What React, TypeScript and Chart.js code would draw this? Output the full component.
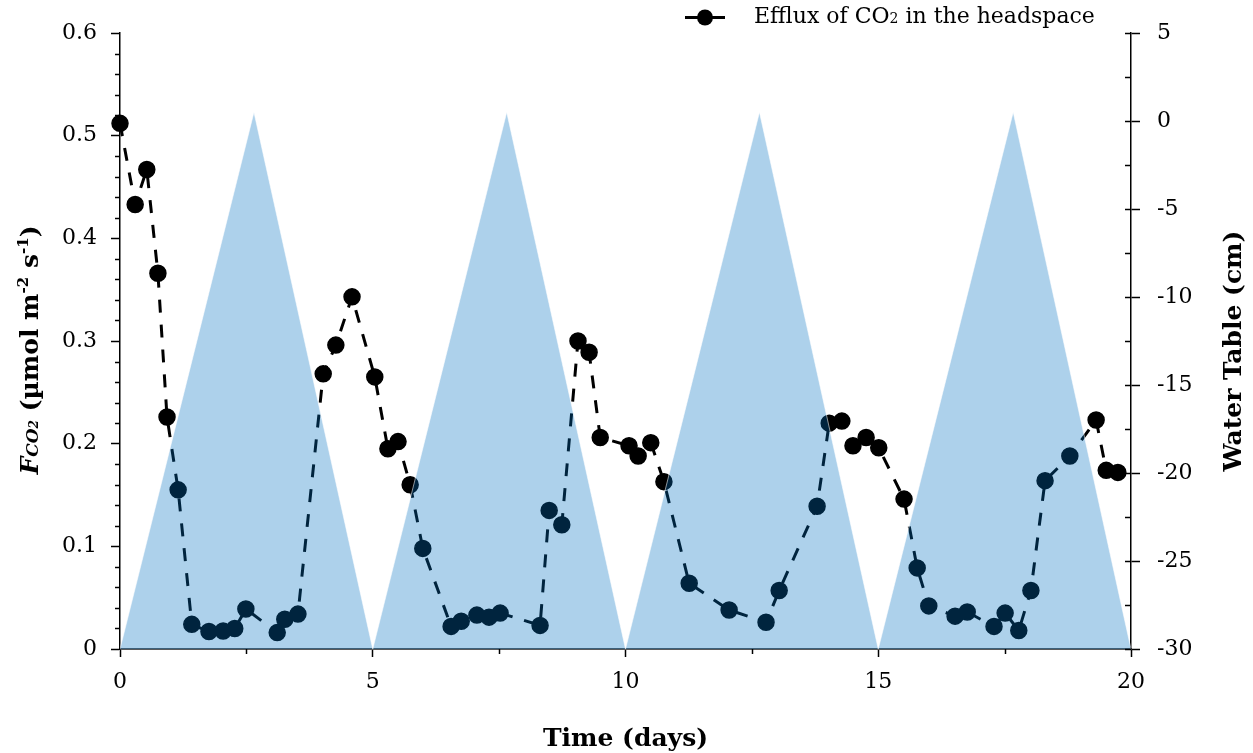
import { useEffect, useRef } from "react";
import { Chart, registerables } from "chart.js";

Chart.register(...registerables);

// ---- data ----
const days = [
  0.0, 0.3, 0.53, 0.75, 0.93, 1.15, 1.42, 1.76, 2.04, 2.27, 2.49, 3.11, 3.26, 3.52,
  4.02, 4.27, 4.59, 5.04, 5.3, 5.5, 5.74, 5.99, 6.55, 6.75, 7.06, 7.3, 7.52, 8.31,
  8.49, 8.74, 9.06, 9.28, 9.5, 10.07, 10.25, 10.5, 10.76, 11.26, 12.05, 12.78, 13.04,
  13.79, 14.03, 14.28, 14.5, 14.76, 15.01, 15.51, 15.77, 16.0, 16.52, 16.76, 17.29,
  17.51, 17.78, 18.02, 18.3, 18.79, 19.31, 19.51, 19.74,
];
const efflux = [
  0.512, 0.433, 0.467, 0.366, 0.226, 0.155, 0.024, 0.017, 0.0175, 0.02, 0.039, 0.016,
  0.029, 0.034, 0.268, 0.296, 0.343, 0.265, 0.195, 0.202, 0.16, 0.098, 0.022, 0.027,
  0.033, 0.031, 0.035, 0.023, 0.135, 0.121, 0.3, 0.289, 0.206, 0.198, 0.188, 0.201,
  0.163, 0.064, 0.038, 0.026, 0.057, 0.139, 0.22, 0.222, 0.198, 0.206, 0.196, 0.146,
  0.079, 0.042, 0.032, 0.036, 0.022, 0.035, 0.018, 0.057, 0.164, 0.188, 0.223, 0.174,
  0.172,
];
const waterDays = [0, 2.65, 5, 7.65, 10, 12.65, 15, 17.67, 20];
const waterLevels = [-30, 0.5, -30, 0.5, -30, 0.5, -30, 0.5, -30];

const legendText = ["Efflux of CO", "2", " in the headspace"];
const xTitle = "Time (days)";
const rightTitle = "Water Table (cm)";

const SERIF = "'DejaVu Serif', serif";

type Run = { text: string; size: number; bold?: boolean; italic?: boolean; dy?: number };

function fontOf(r: Run) {
  return `${r.italic ? "italic " : ""}${r.bold ? "bold " : ""}${r.size}px ${SERIF}`;
}

// draws runs centred on (bx, by) along the text direction, (bx,by) lying on the baseline
function drawRuns(ctx: CanvasRenderingContext2D, runs: Run[], bx: number, by: number, rot: number, align: "center" | "left" = "center") {
  ctx.save();
  ctx.translate(bx, by);
  ctx.rotate(rot);
  ctx.textBaseline = "alphabetic";
  ctx.textAlign = "left";
  ctx.fillStyle = "#000";
  const widths = runs.map((r) => {
    ctx.font = fontOf(r);
    return ctx.measureText(r.text).width;
  });
  const total = widths.reduce((a, b) => a + b, 0);
  let x = align === "center" ? -total / 2 : 0;
  runs.forEach((r, i) => {
    ctx.font = fontOf(r);
    ctx.fillText(r.text, x, r.dy || 0);
    x += widths[i];
  });
  ctx.restore();
}

const decorPlugin = {
  id: "decor",
  afterDraw(chart: any) {
    const ctx: CanvasRenderingContext2D = chart.ctx;
    const { left, right, bottom } = chart.chartArea;
    const x = chart.scales.x;
    const y = chart.scales.y;
    const y2 = chart.scales.y2;
    ctx.save();
    ctx.strokeStyle = "#000";
    ctx.lineWidth = 1.5;
    const seg = (x1: number, y1: number, x2: number, y2p: number) => {
      ctx.beginPath();
      ctx.moveTo(x1, y1);
      ctx.lineTo(x2, y2p);
      ctx.stroke();
    };
    // left minor ticks every 0.02
    for (let k = 1; k < 30; k++) {
      if (k % 5 === 0) continue;
      const py = Math.round(y.getPixelForValue(k * 0.02)) + 0.5;
      seg(left - 5, py, left, py);
    }
    // right: major ticks cross inside, minor ticks inside
    for (let k = -12; k <= 2; k++) {
      const py = Math.round(y2.getPixelForValue(k * 2.5)) + 0.5;
      seg(right - 6, py, right, py);
    }
    // x minor ticks
    for (const v of [2.5, 7.5, 12.5, 17.5]) {
      const px = Math.round(x.getPixelForValue(v)) + 0.5;
      seg(px, bottom, px, bottom + 5);
    }
    ctx.restore();

    // axis titles
    drawRuns(
      ctx,
      [
        { text: "F", size: 25, bold: true, italic: true },
        { text: "CO", size: 17, bold: true, italic: true },
        { text: "2", size: 12, bold: true, italic: true },
        { text: " (\u00b5mol m", size: 25, bold: true },
        { text: "-2", size: 15, bold: true, dy: -10 },
        { text: " s", size: 25, bold: true },
        { text: "-1", size: 15, bold: true, dy: -10 },
        { text: ")", size: 25, bold: true },
      ],
      38,
      350,
      -Math.PI / 2
    );
    drawRuns(ctx, [{ text: rightTitle, size: 25, bold: true }], 1241, 351, -Math.PI / 2);
    drawRuns(ctx, [{ text: xTitle, size: 25, bold: true }], (left + right) / 2, 746, 0);

    // legend
    ctx.save();
    ctx.strokeStyle = "#000";
    ctx.lineWidth = 3;
    ctx.beginPath();
    ctx.moveTo(685, 17.5);
    ctx.lineTo(725, 17.5);
    ctx.stroke();
    ctx.fillStyle = "#000";
    ctx.beginPath();
    ctx.arc(705, 17.5, 8, 0, Math.PI * 2);
    ctx.fill();
    ctx.restore();
    drawRuns(
      ctx,
      [
        { text: legendText[0], size: 22 },
        { text: legendText[1], size: 14 },
        { text: legendText[2], size: 22 },
      ],
      754,
      23,
      0,
      "left"
    );
  },
};

export default function App() {
  const ref = useRef<HTMLCanvasElement | null>(null);
  useEffect(() => {
    document.body.style.margin = "0";
    document.body.style.overflow = "hidden";
    if (!ref.current) return;
    const tickFont = { family: SERIF, size: 22 };
    const chart = new Chart(ref.current, {
      type: "line",
      data: {
        datasets: [
          {
            label: "Water table",
            data: waterDays.map((d, i) => ({ x: d, y: waterLevels[i] })),
            yAxisID: "y2",
            fill: "start",
            backgroundColor: "rgba(0,112,192,0.32)",
            borderColor: "rgba(255,255,255,0.55)",
            borderWidth: 1,
            pointRadius: 0,
            tension: 0,
          },
          {
            label: "Efflux of CO2 in the headspace",
            data: days.map((d, i) => ({ x: d, y: efflux[i] })),
            yAxisID: "y",
            fill: false,
            borderColor: "#000",
            borderWidth: 3,
            borderDash: [13, 12],
            pointRadius: 8,
            pointBorderWidth: 1.5,
            pointBackgroundColor: "#000",
            pointBorderColor: "#000",
            tension: 0,
            clip: false as any,
          },
        ],
      },
      options: {
        animation: false,
        responsive: false,
        layout: { padding: { top: 33, left: 0, right: 0, bottom: 0 } },
        plugins: { legend: { display: false }, tooltip: { enabled: false } },
        scales: {
          x: {
            type: "linear",
            min: 0,
            max: 20,
            ticks: { stepSize: 5, font: tickFont, color: "#000", padding: 12 },
            grid: { drawOnChartArea: false, drawTicks: true, tickLength: 8, tickColor: "#000", tickWidth: 1.5 },
            border: { display: true, color: "#595959", width: 2 },
            afterFit: (s: any) => {
              s.height = 104;
              s.paddingLeft = 0;
              s.paddingRight = 0;
            },
          },
          y: {
            type: "linear",
            position: "left",
            min: 0,
            max: 0.6,
            ticks: { stepSize: 0.1, font: tickFont, color: "#000", padding: 14 },
            grid: { drawOnChartArea: false, drawTicks: true, tickLength: 9, tickColor: "#000", tickWidth: 1.5 },
            border: { display: true, color: "#000", width: 1.5 },
            afterFit: (s: any) => {
              s.width = 120;
              s.paddingTop = 0;
              s.paddingBottom = 0;
            },
          },
          y2: {
            type: "linear",
            position: "right",
            min: -30,
            max: 5,
            ticks: { stepSize: 5, font: tickFont, color: "#000", padding: 17 },
            grid: { drawOnChartArea: false, drawTicks: true, tickLength: 9, tickColor: "#000", tickWidth: 1.5 },
            border: { display: true, color: "#000", width: 1.5 },
            afterFit: (s: any) => {
              s.width = 122;
              s.paddingTop = 0;
              s.paddingBottom = 0;
            },
          },
        },
      },
      plugins: [decorPlugin],
    });
    return () => chart.destroy();
  }, []);
  return (
    <div style={{ width: 1253, height: 753, background: "#fff" }}>
      <canvas ref={ref} width={1253} height={753} style={{ display: "block" }} />
    </div>
  );
}
